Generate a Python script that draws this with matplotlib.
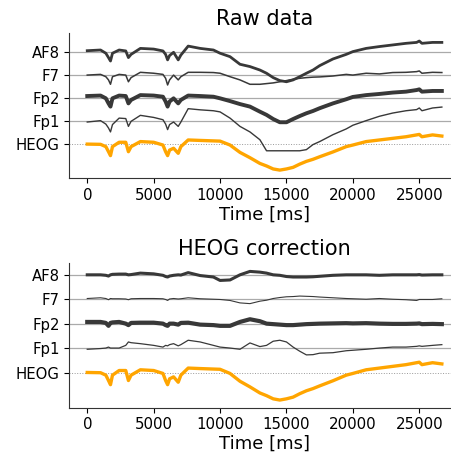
import matplotlib
matplotlib.use("Agg")
import matplotlib.pyplot as plt
import numpy as np

# ---------------- data (values in units of channel spacing) ----------------
time_ms = [0, 1000, 1400, 1600, 1750, 1900, 2400, 2900, 3100, 3300, 4000, 5000,
           5700, 5900, 6050, 6200, 6500, 6850, 7050, 7600, 8500, 9500, 10000, 10750,
           11500, 12250, 13000, 13500, 14000, 14500, 15000, 15500, 16000, 16500, 17000, 17500,
           18500, 19500, 20000, 21000, 22000, 23000, 24000, 24800, 25000, 25200, 26000, 26700]

channels = ["HEOG", "Fp1", "Fp2", "F7", "AF8"]

heog = [0.01, 0.00, -0.10, -0.32, -0.49, -0.10, 0.09, 0.09, -0.32, -0.10, 0.12, 0.09,
        -0.03, -0.32, -0.49, -0.25, -0.17, -0.39, -0.10, 0.19, 0.17, 0.15, 0.14, -0.03,
        -0.35, -0.58, -0.83, -0.94, -1.07, -1.12, -1.07, -1.00, -0.86, -0.74, -0.65, -0.54,
        -0.33, -0.10, -0.03, 0.12, 0.19, 0.26, 0.33, 0.41, 0.43, 0.33, 0.41, 0.36]

raw_af8 = [0.07, 0.10, -0.04, -0.23, -0.38, -0.04, 0.10, 0.06, -0.23, -0.09, 0.17, 0.14,
           0.06, -0.09, -0.33, -0.14, 0.00, -0.33, -0.12, 0.27, 0.17, 0.10, -0.04, -0.19,
           -0.52, -0.62, -0.77, -0.91, -1.10, -1.23, -1.28, -1.20, -1.06, -0.91, -0.77, -0.58,
           -0.29, -0.09, 0.03, 0.17, 0.25, 0.32, 0.39, 0.43, 0.49, 0.39, 0.43, 0.43]

raw_f7 = [0.01, 0.04, -0.06, -0.20, -0.39, -0.06, 0.04, 0.01, -0.28, -0.10, 0.13, 0.09,
          0.04, -0.13, -0.42, -0.20, 0.01, -0.20, -0.06, 0.13, 0.13, 0.12, 0.09, -0.06,
          -0.20, -0.39, -0.39, -0.36, -0.33, -0.28, -0.23, -0.17, -0.13, -0.10, -0.08, -0.07,
          -0.03, 0.04, 0.01, 0.09, 0.06, 0.12, 0.13, 0.16, 0.19, 0.09, 0.13, 0.12]

raw_fp2 = [0.10, 0.12, 0.00, -0.22, -0.36, 0.00, 0.12, 0.10, -0.22, -0.07, 0.14, 0.12,
           0.07, -0.14, -0.36, -0.14, 0.00, -0.22, -0.07, 0.12, 0.10, 0.07, 0.00, -0.12,
           -0.25, -0.36, -0.58, -0.72, -0.90, -1.04, -1.04, -0.90, -0.77, -0.65, -0.55, -0.43,
           -0.22, -0.04, 0.06, 0.14, 0.19, 0.25, 0.29, 0.36, 0.39, 0.29, 0.32, 0.32]

raw_fp1 = [-0.03, 0.03, -0.12, -0.29, -0.46, -0.14, 0.14, 0.12, -0.22, 0.00, 0.26, 0.17,
           0.07, -0.12, -0.36, -0.14, -0.03, -0.22, -0.03, 0.55, 0.50, 0.46, 0.41, 0.14,
           -0.22, -0.46, -0.80, -1.28, -1.28, -1.28, -1.28, -1.28, -1.28, -1.23, -1.01, -0.88,
           -0.58, -0.33, -0.17, 0.03, 0.22, 0.36, 0.46, 0.51, 0.58, 0.46, 0.58, 0.62]

cor_af8 = [0.01, 0.01, -0.01, -0.04, 0.01, 0.03, 0.04, 0.04, 0.01, 0.02, 0.08, 0.05,
           -0.01, -0.06, -0.08, -0.04, -0.01, 0.01, 0.00, 0.10, -0.02, -0.08, -0.22, -0.20,
           0.01, 0.15, 0.12, 0.08, 0.01, -0.01, -0.06, -0.08, -0.08, -0.08, -0.07, -0.05,
           -0.01, 0.01, 0.01, 0.01, -0.01, 0.01, 0.01, 0.01, 0.02, 0.00, 0.01, 0.01]

cor_f7 = [0.04, 0.07, 0.04, -0.01, 0.04, 0.03, 0.03, 0.02, -0.01, 0.03, 0.04, 0.04,
          0.03, 0.00, -0.04, 0.02, 0.04, 0.02, 0.03, 0.07, 0.03, 0.01, 0.00, -0.04,
          -0.14, -0.17, -0.07, -0.03, 0.04, 0.08, 0.11, 0.12, 0.14, 0.13, 0.12, 0.10,
          0.07, 0.04, 0.03, 0.01, 0.04, 0.01, -0.01, -0.04, 0.00, 0.00, 0.00, 0.03]

cor_fp2 = [0.08, 0.08, 0.04, -0.08, 0.04, 0.06, 0.08, 0.01, -0.05, 0.04, 0.05, 0.05,
           0.01, -0.05, -0.08, 0.01, 0.01, -0.03, 0.04, 0.05, -0.03, -0.05, -0.08, -0.08,
           0.08, 0.19, 0.11, 0.01, -0.01, -0.03, -0.05, -0.05, -0.03, -0.01, 0.00, 0.01,
           0.02, 0.03, 0.02, 0.03, 0.01, 0.00, 0.00, 0.01, 0.02, -0.01, 0.00, -0.01]

cor_fp1 = [-0.04, -0.01, 0.01, 0.05, 0.01, 0.01, 0.01, 0.12, 0.26, 0.23, 0.19, 0.12,
           0.05, 0.12, 0.10, 0.15, 0.19, 0.10, 0.15, 0.33, 0.26, 0.12, 0.05, 0.01,
           -0.04, 0.22, 0.07, 0.12, 0.29, 0.33, 0.26, 0.05, -0.12, -0.27, -0.26, -0.20,
           -0.18, -0.10, -0.08, -0.04, 0.01, 0.05, 0.05, 0.08, 0.10, 0.08, 0.12, 0.15]

panels = [
    ("Raw data", {"AF8": raw_af8, "F7": raw_f7, "Fp2": raw_fp2, "Fp1": raw_fp1}),
    ("HEOG correction", {"AF8": cor_af8, "F7": cor_f7, "Fp2": cor_fp2, "Fp1": cor_fp1}),
]

# ---------------- styling ----------------
line_widths = {"AF8": 2.0, "F7": 1.1, "Fp2": 2.8, "Fp1": 1.0}
corr_widths = {"AF8": 2.2, "F7": 0.8, "Fp2": 3.0, "Fp1": 0.9}
trace_color = "#383838"
heog_color = "#ffa500"

fig = plt.figure(figsize=(4.51, 4.58), dpi=100)
# right edge deliberately a little past the figure edge (as in the reference)
ax_pos = [[0.154, 0.611, 0.864, 0.317], [0.154, 0.110, 0.864, 0.315]]
ylims = [(-1.47, 4.84), (-1.43, 4.48)]

t = np.array(time_ms)
for i, (title, data) in enumerate(panels):
    ax = fig.add_axes(ax_pos[i])
    widths = line_widths if i == 0 else corr_widths
    for k, name in enumerate(channels):
        off = k
        if name == "HEOG":
            ax.axhline(off, color="#999999", lw=0.7, ls=":", zorder=1)
            ax.plot(t, np.array(heog) + off, color=heog_color, lw=2.4, zorder=3)
        else:
            ax.axhline(off, color="#aaaaaa", lw=0.9, zorder=1)
            ax.plot(t, np.array(data[name]) + off, color=trace_color,
                    lw=widths[name], zorder=2)
    ax.set_yticks(range(len(channels)))
    ax.set_yticklabels(channels, fontsize=10.7)
    ax.set_xticks([0, 5000, 10000, 15000, 20000, 25000])
    ax.tick_params(axis="x", labelsize=10.8)
    ax.set_xlim(-1340, 28000)
    ax.set_ylim(*ylims[i])
    ax.set_xlabel("Time [ms]", fontsize=13, labelpad=2)
    ax.set_title(title, fontsize=15, pad=6)
    for s in ["top", "right"]:
        ax.spines[s].set_visible(False)
    for s in ["left", "bottom"]:
        ax.spines[s].set_color("#333333")

fig.savefig("out.png", dpi=100)
